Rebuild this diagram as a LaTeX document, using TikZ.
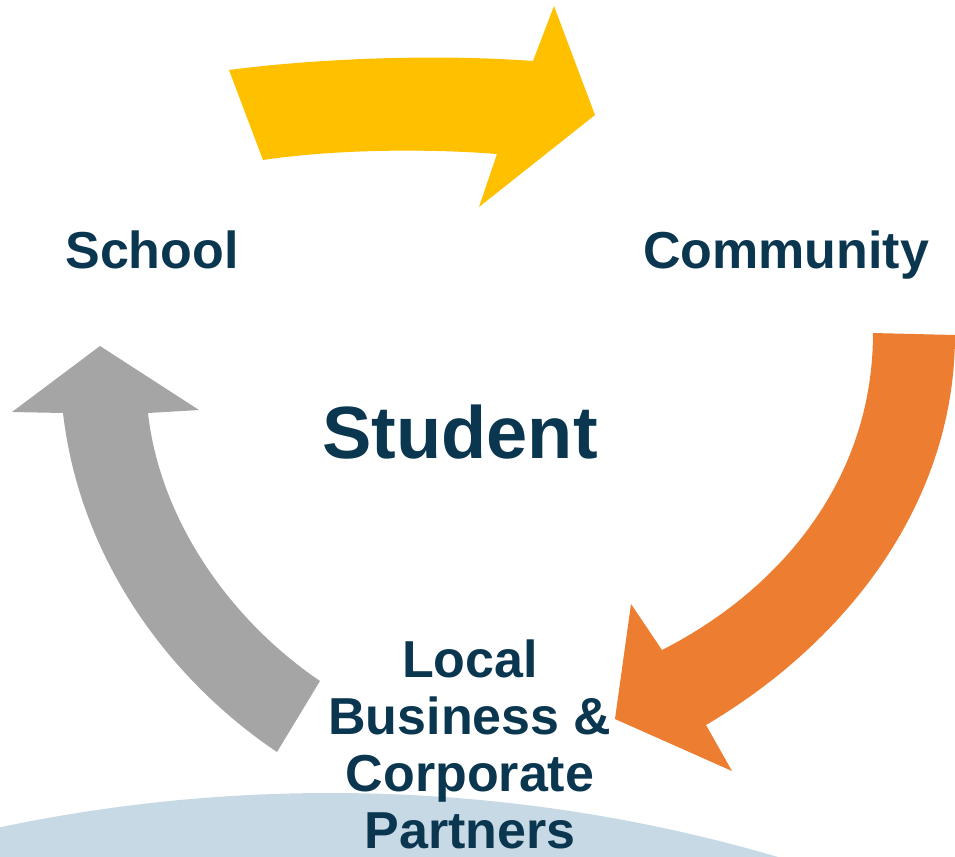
\documentclass[tikz,border=0pt]{standalone}
\usepackage{fontspec}
\setmainfont{Liberation Sans}
\usepackage{tikz}
\usepackage{xcolor}
\definecolor{navy}{HTML}{0B3650}
\definecolor{gold}{HTML}{FFC000}
\definecolor{tangerine}{HTML}{ED7D31}
\definecolor{stone}{HTML}{A5A5A5}
\definecolor{skyline}{HTML}{C8D9E6}
\tikzset{
    party-label/.style = {text=navy, font=\bfseries\fontsize{26}{28.5}\selectfont, align=center, inner sep=0pt},
    center-label/.style = {text=navy, font=\bfseries\fontsize{37}{40}\selectfont, inner sep=0pt},
    cycle-arrow/.style = {draw=none},
}

\begin{document}
\begin{tikzpicture}[x=0.5pt, y=-0.5pt]
\useasboundingbox (0,0) rectangle (955,857);
\begin{scope}
\clip (0,0) rectangle (955,857);
\fill[skyline] (330,2383) circle (1590);
\end{scope}

% school -> community
\fill[cycle-arrow, gold] (229,70) .. controls (320,58) and (440,54) .. (533,61)
    -- (554,6) -- (595,115) -- (479,207) -- (497,154)
    .. controls (420,148) and (330,150) .. (263,160) -- cycle;
% community -> partners
\fill[cycle-arrow, tangerine] (873,333) .. controls (873,480) and (780,590) .. (662,650)
    -- (631,604) -- (615,719) -- (732,771) -- (706,725)
    .. controls (850,640) and (955,500) .. (955,335) -- cycle;
% partners -> school
\fill[cycle-arrow, stone] (320,681) .. controls (230,620) and (160,520) .. (148,413)
    -- (199,410) -- (100,346) -- (12,412) -- (63,413)
    .. controls (80,560) and (170,680) .. (277,752) -- cycle;

\node[party-label, anchor=base] (school) at (152,268) {School};
\node[party-label, anchor=base] (community) at (786,268) {Community};
\node[center-label, anchor=base] (student) at (460,458) {Student};
\node[party-label, anchor=north] (partners) at (470,639) {Local\\Business \&\\Corporate\\Partners};
\end{tikzpicture}
\end{document}
